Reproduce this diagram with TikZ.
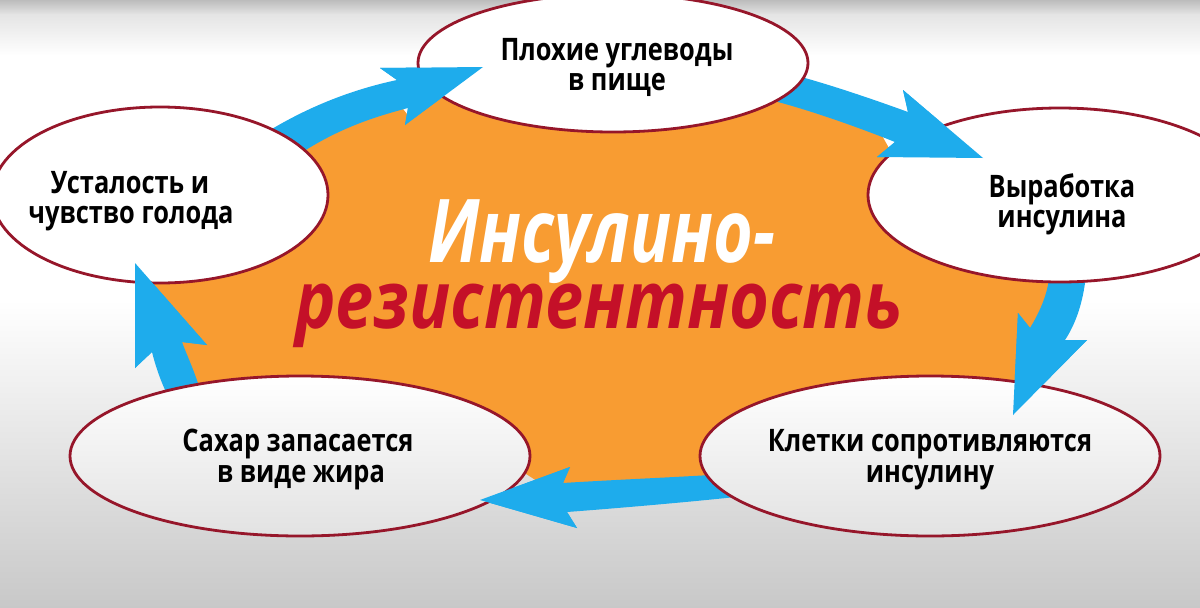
\documentclass[tikz,border=0pt]{standalone}
\usepackage{fontspec}
\usetikzlibrary{shapes.geometric}
\newfontfamily\lblfont[FakeStretch=0.82]{Open Sans}
\newfontfamily\ttlafont[FakeStretch=0.775]{Open Sans}
\newfontfamily\ttlbfont[FakeStretch=0.855]{Open Sans}
\definecolor{arrblue}{RGB}{30,172,236}
\definecolor{blob}{RGB}{248,156,50}
\definecolor{rim}{RGB}{150,22,42}
\definecolor{ttlred}{RGB}{196,16,40}
\definecolor{bgtop}{RGB}{188,188,188}
\definecolor{bgmid}{RGB}{228,228,228}
\definecolor{bgbot}{RGB}{200,200,200}
\definecolor{ellbot}{RGB}{226,226,226}
\tikzset{
  bub/.style={ellipse, draw=rim, line width=2.8pt, fill=white, inner sep=0pt},
  lbl/.style={font=\lblfont\bfseries\fontsize{31}{31}\selectfont, anchor=base, inner sep=0pt, text=black},
  ttla/.style={font=\ttlafont\bfseries\itshape\fontsize{88}{88}\selectfont, anchor=base, inner sep=0pt},
  ttlb/.style={font=\ttlbfont\bfseries\itshape\fontsize{80}{80}\selectfont, anchor=base, inner sep=0pt},
  arr/.style={fill=arrblue}
}
\begin{document}
\begin{tikzpicture}[x=1pt,y=-1pt]
\useasboundingbox (0,0) rectangle (1200,608);
% background
\shade[top color=bgtop, bottom color=bgmid] (0,0) rectangle (1200,14.5);
\shade[top color=bgmid, bottom color=white] (0,14) rectangle (1200,55.5);
\fill[white] (0,55) rectangle (1200,300.5);
\shade[top color=white, bottom color=bgbot] (0,300) rectangle (1200,608);
% orange blob
\fill[blob] (290,150) -- (350,125) -- (400,105) -- (410,118) -- (450,90) -- (600,100) -- (780,96) -- (880,132) -- (890,150) -- (905,165) -- (1000,200) -- (1055,272) -- (1060,290) -- (1042,330) -- (1022,345) -- (1020,400) -- (900,420) -- (720,470) -- (700,488) -- (560,496) -- (520,470) -- (300,400) -- (205,392) -- (185,370) -- (165,325) -- (145,278) -- (250,200) -- cycle;
% arrow bodies
\fill[arr] (262,135) .. controls (305,108) and (350,90) .. (397,80) -- (380,68) -- (483,67) -- (405,125) -- (408,108) .. controls (370,118) and (335,130) .. (295,157) -- cycle;
\fill[arr] (795,68) -- (805,78) .. controls (840,88) and (875,100) .. (908,112) -- (903,90) -- (983,158) -- (877,157) -- (895,142) .. controls (860,128) and (815,112) .. (778,102) -- (768,92) -- cycle;
\fill[arr] (1050,272) -- (1090,272) -- (1085,283) .. controls (1082,305) and (1075,325) .. (1065,340) -- (1087,340) -- (1013,415) -- (1018,313) -- (1030,328) .. controls (1038,315) and (1045,300) .. (1048,285) -- cycle;
\fill[arr] (728,474) .. controls (680,477) and (610,480) .. (563,483) -- (570,467) -- (480,500) -- (577,528) -- (567,512) .. controls (620,508) and (690,502) .. (745,496) -- cycle;
\fill[arr] (170,400) .. controls (162,385) and (156,368) .. (152,352) -- (135,368) -- (135,263) -- (207,345) -- (182,342) .. controls (188,358) and (195,372) .. (202,396) -- cycle;
% ellipses
\node[bub, minimum width=390pt, minimum height=138pt] (e1) at (613,63) {};
\node[bub, minimum width=384pt, minimum height=174pt] (e2) at (1060,195) {};
\node[bub, minimum width=460pt, minimum height=160pt, top color=white, bottom color=ellbot] (e3) at (930,456) {};
\node[bub, minimum width=460pt, minimum height=160pt, top color=white, bottom color=ellbot] (e4) at (300,456) {};
\node[bub, minimum width=336pt, minimum height=176pt] (e5) at (160,195) {};
% arrow heads over ellipses
\fill[arr] (397,80) -- (380,68) -- (483,67) -- (405,125) -- (408,108) -- cycle;
\fill[arr] (908,112) -- (903,90) -- (983,158) -- (877,157) -- (895,142) -- cycle;
\fill[arr] (1065,340) -- (1087,340) -- (1013,415) -- (1018,313) -- (1030,328) -- cycle;
\fill[arr] (563,483) -- (570,467) -- (480,500) -- (577,528) -- (567,512) -- cycle;
\fill[arr] (152,352) -- (135,368) -- (135,263) -- (207,345) -- (182,342) -- cycle;
% labels
\node[lbl] (t1a) at (617,60) {Плохие углеводы};
\node[lbl] (t1b) at (617,90) {в пище};
\node[lbl] (t2a) at (1062,197) {Выработка};
\node[lbl] (t2b) at (1062,227) {инсулина};
\node[lbl] (t3a) at (930,451) {Клетки сопротивляются};
\node[lbl] (t3b) at (930,482) {инсулину};
\node[lbl] (t4a) at (298,451) {Сахар запасается};
\node[lbl] (t4b) at (301,482) {в виде жира};
\node[lbl] (t5a) at (130,193) {Усталость и};
\node[lbl] (t5b) at (131,223) {чувство голода};
% title
\node[ttla, text=white, text depth=0pt] (h1) at (602,262) {Инсулино-};
\node[ttlb, text=ttlred] (h2) at (599,328) {резистентность};
\end{tikzpicture}
\end{document}
